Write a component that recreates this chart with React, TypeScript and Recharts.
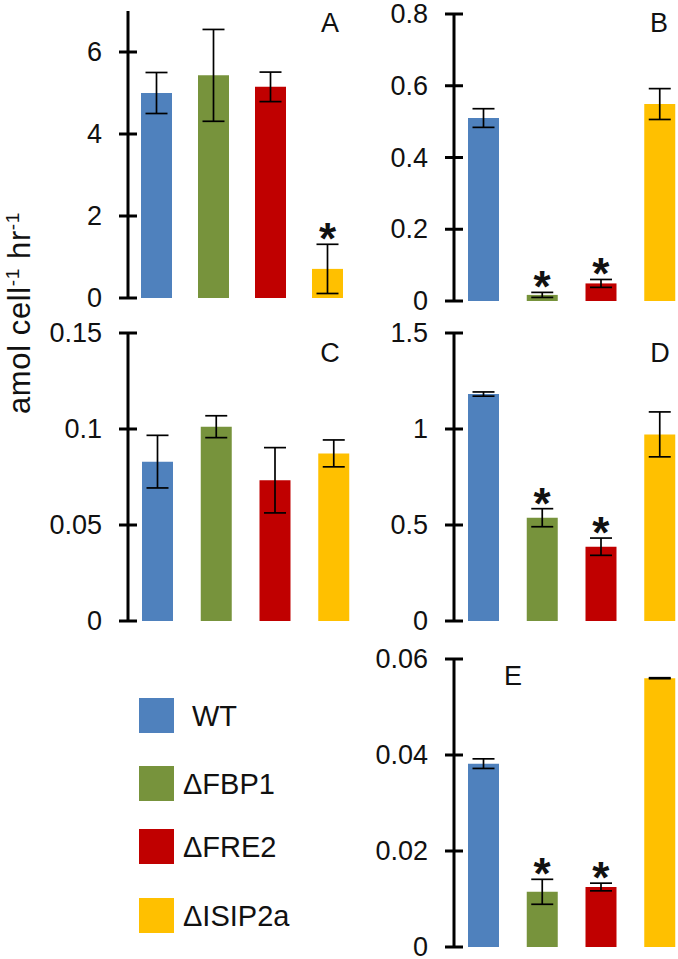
import React from 'react';
import { ComposedChart, Bar, XAxis, YAxis, ErrorBar, Scatter, Cell } from 'recharts';

const FONT = '"Liberation Sans", Arial, sans-serif';

const strains = ['WT', 'ΔFBP1', 'ΔFRE2', 'ΔISIP2a'];
const colors = ['#4F81BD', '#77933C', '#C00000', '#FFC000'];

// Panel A
const aValues = [5.0, 5.43, 5.15, 0.71];
const aErrors = [0.5, 1.12, 0.36, 0.6];
const aSig = [false, false, false, true];
const aTicks = [0, 2, 4, 6];
const aTickLabels = ['0', '2', '4', '6'];

// Panel B
const bValues = [0.51, 0.017, 0.049, 0.549];
const bErrors = [0.026, 0.007, 0.011, 0.043];
const bSig = [false, true, true, false];
const bTicks = [0, 0.2, 0.4, 0.6, 0.8];
const bTickLabels = ['0', '0.2', '0.4', '0.6', '0.8'];

// Panel C
const cValues = [0.083, 0.1012, 0.0733, 0.0873];
const cErrors = [0.0137, 0.0057, 0.017, 0.007];
const cSig = [false, false, false, false];
const cTicks = [0, 0.05, 0.1, 0.15];
const cTickLabels = ['0', '0.05', '0.1', '0.15'];

// Panel D
const dValues = [1.182, 0.538, 0.387, 0.972];
const dErrors = [0.011, 0.047, 0.045, 0.117];
const dSig = [false, true, true, false];
const dTicks = [0, 0.5, 1, 1.5];
const dTickLabels = ['0', '0.5', '1', '1.5'];

// Panel E
const eValues = [0.0382, 0.0115, 0.0125, 0.056];
const eErrors = [0.001, 0.0026, 0.0008, 0.0001];
const eSig = [false, true, true, false];
const eTicks = [0, 0.02, 0.04, 0.06];
const eTickLabels = ['0', '0.02', '0.04', '0.06'];

const buildData = (vals: number[], errs: number[], sig: boolean[]) =>
  strains.map((name, i) => ({
    name,
    value: vals[i],
    err: errs[i],
    sig: sig[i],
    star: sig[i] ? vals[i] + errs[i] : null,
  }));

const makeTick = (ticks: number[], labels: string[]) => (props: any) => {
  const { x, y, payload } = props;
  const idx = ticks.indexOf(payload.value);
  const label = idx >= 0 ? labels[idx] : String(payload.value);
  return (
    <g>
      <line x1={x - 9} x2={x + 9} y1={y} y2={y} stroke="#000" strokeWidth={3} />
      <text x={x - 26} y={y} dy="0.34em" textAnchor="end" fontSize={27} fontFamily={FONT} fill="#111">
        {label}
      </text>
    </g>
  );
};

const starShape = (p: any) => {
  if (!p.payload || !p.payload.sig || p.cy == null || !isFinite(p.cy)) return <g />;
  return (
    <text x={p.cx} y={p.cy + 10} textAnchor="middle" fontSize={44} fontWeight="bold" fontFamily={FONT} fill="#111">
      *
    </text>
  );
};

type PanelProps = {
  left: number;
  top: number;
  width: number;
  height: number;
  margin: { top: number; right: number; bottom: number; left: number };
  yAxisWidth: number;
  domain: [number, number];
  ticks: number[];
  tickLabels: string[];
  data: any[];
};

const Panel = (p: PanelProps) => (
  <div style={{ position: 'absolute', left: p.left, top: p.top }}>
    <ComposedChart width={p.width} height={p.height} data={p.data} margin={p.margin}>
      <XAxis dataKey="name" hide />
      <YAxis
        width={p.yAxisWidth}
        domain={p.domain}
        ticks={p.ticks}
        allowDataOverflow
        interval={0}
        tickSize={0}
        tickMargin={0}
        tickLine={false}
        axisLine={{ stroke: '#000', strokeWidth: 3 }}
        tick={makeTick(p.ticks, p.tickLabels)}
      />
      <Bar dataKey="value" barSize={31} isAnimationActive={false}>
        {p.data.map((d, i) => (
          <Cell key={d.name} fill={colors[i]} />
        ))}
        <ErrorBar dataKey="err" width={11} strokeWidth={1.7} stroke="#000" direction="y" />
      </Bar>
      <Scatter dataKey="star" shape={starShape} isAnimationActive={false} />
    </ComposedChart>
  </div>
);

const labelStyle = { fontSize: 27, fontFamily: FONT, fill: '#111' } as any;

export default function App() {
  return (
    <div
      style={{
        position: 'absolute',
        left: 0,
        top: 0,
        width: 678,
        height: 959,
        overflow: 'hidden',
        background: '#fff',
      }}
    >
      <Panel
        left={0}
        top={0}
        width={360}
        height={325}
        margin={{ top: 11, right: 4, bottom: 27, left: 0 }}
        yAxisWidth={128}
        domain={[0, 7]}
        ticks={aTicks}
        tickLabels={aTickLabels}
        data={buildData(aValues, aErrors, aSig)}
      />
      <Panel
        left={340}
        top={0}
        width={350}
        height={325}
        margin={{ top: 14, right: 1, bottom: 24, left: 0 }}
        yAxisWidth={114}
        domain={[0, 0.8]}
        ticks={bTicks}
        tickLabels={bTickLabels}
        data={buildData(bValues, bErrors, bSig)}
      />
      <Panel
        left={0}
        top={308}
        width={370}
        height={342}
        margin={{ top: 25, right: 7, bottom: 29, left: 0 }}
        yAxisWidth={128}
        domain={[0, 0.15]}
        ticks={cTicks}
        tickLabels={cTickLabels}
        data={buildData(cValues, cErrors, cSig)}
      />
      <Panel
        left={340}
        top={308}
        width={350}
        height={342}
        margin={{ top: 25, right: 1, bottom: 29, left: 0 }}
        yAxisWidth={114}
        domain={[0, 1.5]}
        ticks={dTicks}
        tickLabels={dTickLabels}
        data={buildData(dValues, dErrors, dSig)}
      />
      <Panel
        left={340}
        top={640}
        width={350}
        height={319}
        margin={{ top: 19, right: 1, bottom: 12, left: 0 }}
        yAxisWidth={114}
        domain={[0, 0.06]}
        ticks={eTicks}
        tickLabels={eTickLabels}
        data={buildData(eValues, eErrors, eSig)}
      />
      <svg
        width={678}
        height={959}
        style={{ position: 'absolute', left: 0, top: 0, pointerEvents: 'none' }}
      >
        <text x={330} y={32} textAnchor="middle" {...labelStyle}>A</text>
        <text x={659} y={32} textAnchor="middle" {...labelStyle}>B</text>
        <text x={330} y={362} textAnchor="middle" {...labelStyle}>C</text>
        <text x={660} y={362} textAnchor="middle" {...labelStyle}>D</text>
        <text x={513} y={685} textAnchor="middle" {...labelStyle}>E</text>

        <text
          transform="translate(30,313) rotate(-90)"
          textAnchor="middle"
          fontSize={31}
          fontFamily={FONT}
          fill="#111"
          letterSpacing={0.6}
        >
          amol cell
          <tspan dy={-11} fontSize={19}>-1</tspan>
          <tspan dy={11}> hr</tspan>
          <tspan dy={-11} fontSize={19}>-1</tspan>
        </text>

        {strains.map((s, i) => {
          const tops = [698, 766, 829, 898];
          const xs = [192, 183, 183, 183];
          return (
            <g key={s}>
              <rect x={139} y={tops[i]} width={35} height={35} fill={colors[i]} />
              <text x={xs[i]} y={tops[i] + 28} fontSize={29} fontFamily={FONT} fill="#111">
                {s}
              </text>
            </g>
          );
        })}
      </svg>
    </div>
  );
}
